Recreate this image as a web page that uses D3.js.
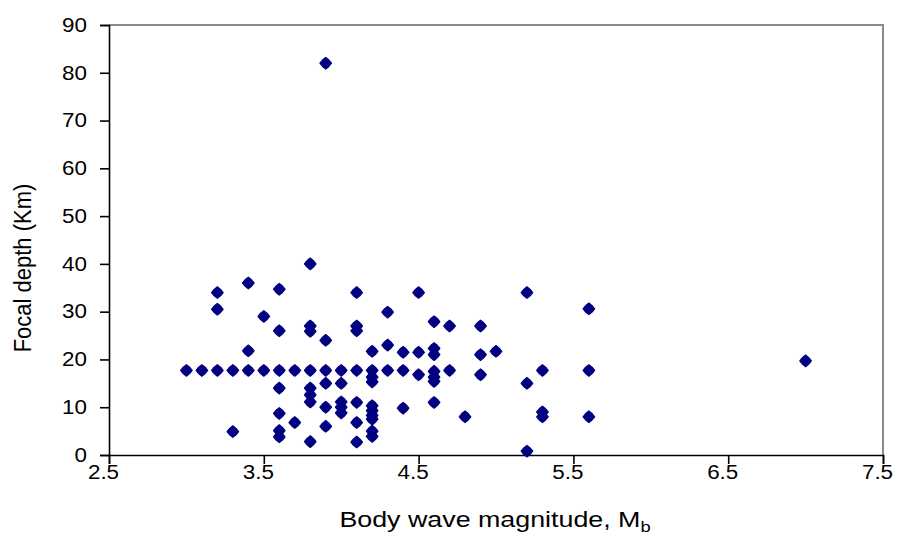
<!DOCTYPE html>
<html>
<head>
<meta charset="utf-8">
<script src="https://cdn.jsdelivr.net/npm/d3@7"></script>
<style>
  html, body { margin: 0; padding: 0; background: #fff; }
  svg { display: block; }
  text { font-family: "Liberation Sans", Arial, sans-serif; fill: #000; }
</style>
</head>
<body>
<svg id="chart" width="901" height="537"></svg>
<script>
// Body wave magnitude (Mb)
const magnitude = [
  3.0, 3.1, 3.2, 3.3, 3.4, 3.5, 3.6, 3.7, 3.8, 3.9, 4.0, 4.1, 4.2, 4.3, 4.4, 4.6, 4.7, 5.3, 5.6,
  3.2, 3.2, 3.4, 3.6, 3.8, 4.1, 4.5, 5.2,
  3.5, 4.3, 5.6,
  3.6, 3.8, 3.8, 4.1, 4.1, 4.6, 4.7, 4.9,
  3.9, 4.3,
  3.4, 4.2, 4.4, 4.5, 4.6, 4.6, 4.9, 5.0,
  4.2, 4.2, 4.5, 4.6, 4.6, 4.9,
  3.9, 4.0, 3.6, 3.8, 5.2, 4.2,
  3.8, 3.8, 3.9, 4.0, 4.0, 4.0, 4.1, 4.2, 4.2, 4.2, 4.4, 4.6,
  3.6, 3.7, 3.9, 4.1, 4.8, 5.3, 5.3, 5.6,
  3.3, 3.6, 3.6, 3.8, 4.1, 4.2, 4.2, 5.2,
  3.9, 7.0
];
// Focal depth (Km)
const depth = [
  17.7, 17.7, 17.7, 17.7, 17.7, 17.7, 17.7, 17.7, 17.7, 17.7, 17.7, 17.7, 17.7, 17.7, 17.7, 17.5, 17.7, 17.7, 17.7,
  34, 30.5, 36, 34.7, 40, 34, 34, 34,
  29, 29.9, 30.6,
  26, 27, 25.9, 27, 26, 27.9, 27, 27,
  24, 23,
  21.8, 21.7, 21.5, 21.5, 22.3, 21, 21, 21.7,
  16.3, 15.3, 16.8, 16.3, 15.4, 16.8,
  15, 15, 14, 14, 15, 8.3,
  12.6, 11.1, 10, 11.1, 10, 8.8, 11, 10.3, 9.3, 7.5, 9.8, 11,
  8.7, 6.8, 6, 6.8, 8, 9, 8, 8,
  4.9, 5.1, 3.8, 2.8, 2.7, 5, 3.9, 0.8,
  82, 19.7
];
const xTicks = [2.5, 3.5, 4.5, 5.5, 6.5, 7.5];
const yTicks = [0, 10, 20, 30, 40, 50, 60, 70, 80, 90];

const svg = d3.select("#chart");
const x = d3.scaleLinear().domain([2.5, 7.5]).range([109, 883]);
const y = d3.scaleLinear().domain([0, 90]).range([455, 25]);

// plot area border (top & right)
svg.append("path")
  .attr("d", `M${x(2.5)},${y(90)}H${x(7.5)}V${y(0)}`)
  .attr("fill", "none").attr("stroke", "#8a8a8a").attr("stroke-width", 2);

// axes
const xAxis = svg.append("g").attr("transform", `translate(0,${y(0)})`)
  .call(d3.axisBottom(x).tickValues(xTicks).tickSize(9).tickPadding(1).tickFormat(d3.format(".1f")));
const yAxis = svg.append("g").attr("transform", `translate(${x(2.5)},0)`)
  .call(d3.axisLeft(y).tickValues(yTicks).tickSize(9).tickPadding(13));
[xAxis, yAxis].forEach(g => {
  g.select(".domain").attr("stroke", "#000").attr("stroke-width", 1.6);
  g.selectAll(".tick line").attr("stroke", "#000").attr("stroke-width", 1.6);
  g.selectAll(".tick text").attr("font-size", 19.5)
    .attr("font-family", "Liberation Sans, Arial, sans-serif").attr("fill", "#1a1a1a");
});
// slight horizontal stretch of label glyphs, as in the reference
xAxis.selectAll(".tick text").each(function () {
  const t = d3.select(this);
  const yy = +t.attr("y");
  t.attr("y", null).attr("transform", `translate(-6,${yy}) scale(1.15,1)`);
});
yAxis.selectAll(".tick text").each(function () {
  const t = d3.select(this);
  const xx = +t.attr("x");
  t.attr("x", null).attr("transform", `translate(${xx},0) scale(1.15,1)`);
});

// markers: Excel-like diamond
const s = 5.8, q = 3.2;
const marker = `M0,${-s}L${q},${-q}L${s},0L${q},${q}L0,${s}L${-q},${q}L${-s},0L${-q},${-q}Z`;
const pts = magnitude.map((m, i) => ({ m, d: depth[i] }));
svg.append("g").selectAll("path").data(pts).join("path")
  .attr("d", marker)
  .attr("transform", p => `translate(${x(p.m)},${y(p.d)})`)
  .attr("fill", "#000080")
  .attr("stroke", "#000080").attr("stroke-width", 1.2).attr("stroke-linejoin", "round");

// axis titles
svg.append("text")
  .attr("transform", `translate(31,268) scale(1.12,1) rotate(-90)`)
  .attr("text-anchor", "middle").attr("font-size", 22).attr("fill", "#1a1a1a")
  .text("Focal depth (Km)");
const xt = svg.append("text")
  .attr("transform", `translate(495,527) scale(1.22,1)`)
  .attr("text-anchor", "middle").attr("font-size", 22).attr("fill", "#1a1a1a");
xt.append("tspan").text("Body wave magnitude, M");
xt.append("tspan").attr("font-size", 15).attr("dy", 5).text("b");
</script>
</body>
</html>
